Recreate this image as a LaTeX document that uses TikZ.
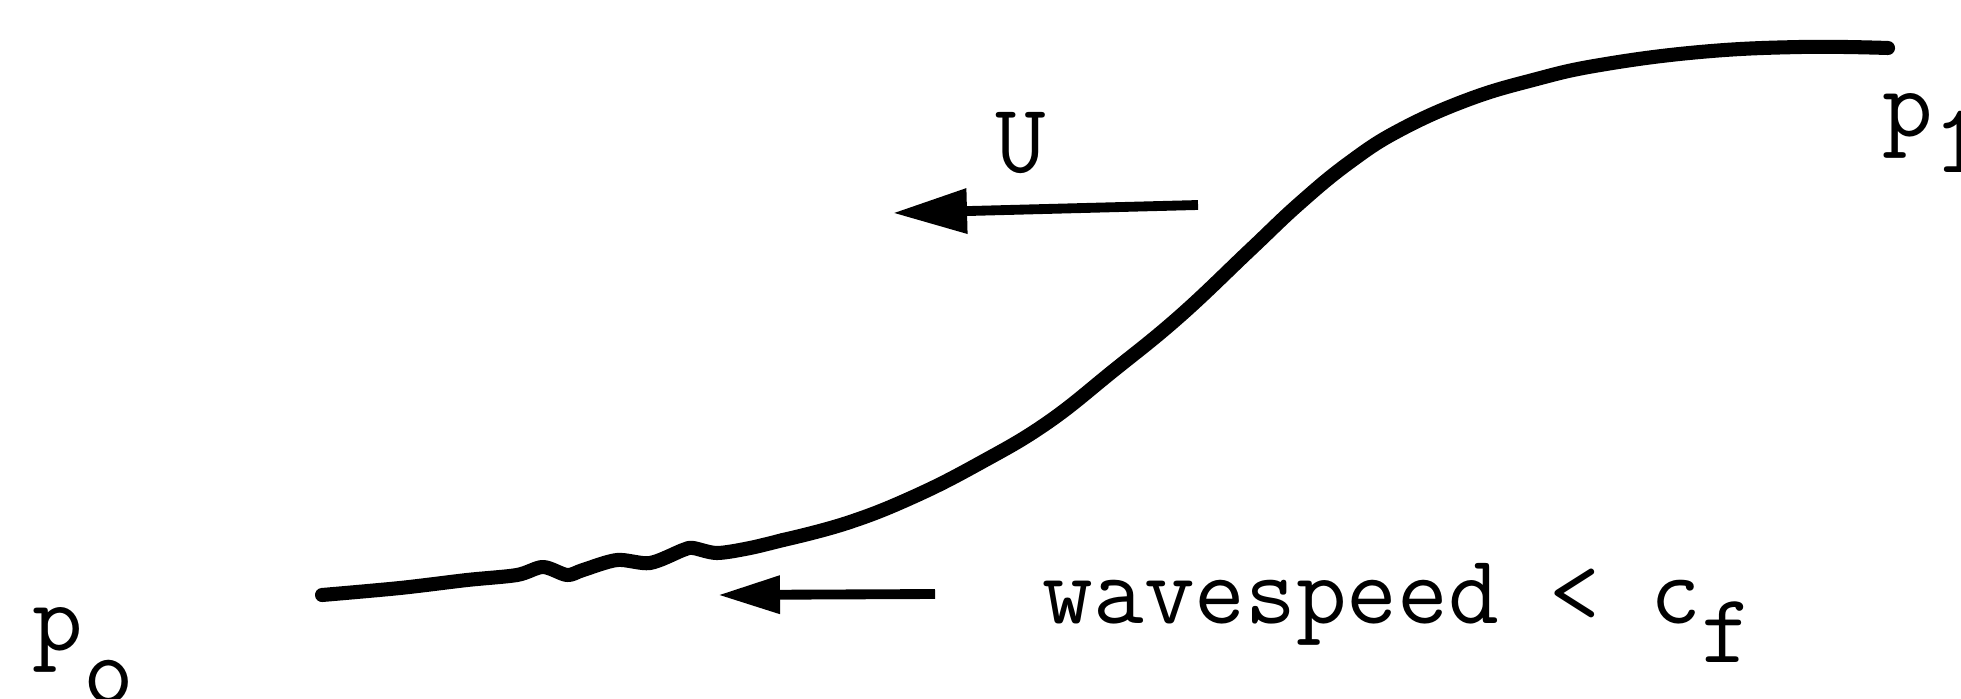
\documentclass[tikz,border=0pt]{standalone}
\usepackage{tikz}
\usetikzlibrary{arrows.meta}

\begin{document}
\begin{tikzpicture}[>=Stealth,
  lbl/.style={font=\fontsize{28}{30}\selectfont\ttfamily,inner sep=0pt},
  profile/.style={line width=4pt,line cap=round,line join=round},
  flow/.style={line width=2.8pt,-{Triangle[length=7.4mm,width=4.3mm]}},
  slow/.style={line width=2.8pt,-{Triangle[length=6.2mm,width=3.6mm]}}]
\useasboundingbox (0,0) rectangle (19.61,6.98);
\draw[profile] plot[smooth,tension=0.5] coordinates {(3.22,1.03) (4.00,1.10) (4.67,1.18) (5.17,1.23)
  (5.43,1.31) (5.67,1.23) (5.83,1.28) (6.17,1.38) (6.50,1.35) (6.83,1.48) (6.93,1.50) (7.17,1.45)
  (7.50,1.50) (7.83,1.58)};
\draw[profile] plot[smooth,tension=0.7] coordinates {(7.83,1.58) (8.47,1.75) (9.13,2.01) (9.80,2.35)
  (10.47,2.75) (11.13,3.27) (11.80,3.82) (12.50,4.48) (13.00,4.95) (13.50,5.36) (14.00,5.68)
  (14.67,5.98) (15.33,6.18) (16.00,6.33) (17.00,6.46) (18.00,6.51) (18.88,6.50)};
\node[lbl,anchor=base west] (pzero) at (0.32,0.48) {p\raisebox{-5.3mm}{o}};
\node[lbl,anchor=base west] (pone) at (18.82,5.62) {p\raisebox{-3.6mm}{1}};
\node[lbl,anchor=base] (U) at (10.21,5.26) {U};
\node[lbl,anchor=base west] (speed) at (10.42,0.75) {wavespeed < c\raisebox{-3.9mm}{f}};
\coordinate (Utail) at (11.98,4.93);
\coordinate (Utip) at (8.93,4.85);
\coordinate (wtail) at (9.35,1.04);
\coordinate (wtip) at (7.18,1.03);
\draw[flow] (Utail) -- (Utip);
\draw[slow] (wtail) -- (wtip);
\end{tikzpicture}
\end{document}
